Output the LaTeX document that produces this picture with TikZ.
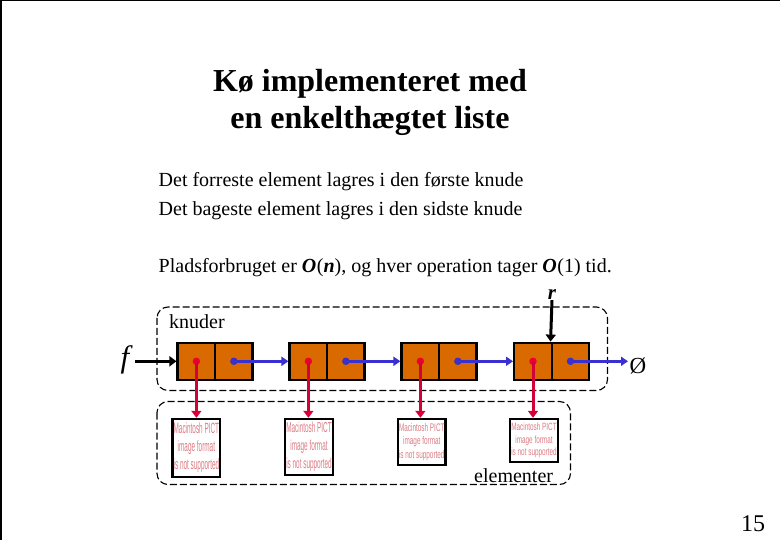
\documentclass[tikz,border=0pt]{standalone}
\usepackage{fontspec}
\usepackage{graphicx}
\setmainfont{Liberation Serif}
\setsansfont{Liberation Sans}
\usetikzlibrary{arrows.meta}
\definecolor{cellfill}{HTML}{D96A00}
\definecolor{redline}{HTML}{D4003A}
\definecolor{reddot}{HTML}{F00030}
\definecolor{blueline}{HTML}{3A2FD0}
\definecolor{pictred}{HTML}{DC7C84}
\tikzset{
  x=1pt,y=-1pt,
  cellbox/.style={draw=black,fill=cellfill,line width=2.4pt,minimum width=37.5pt,minimum height=37pt,inner sep=0pt,anchor=center},
  elembox/.style={draw=black,fill=white,line width=2.4pt,inner sep=0pt,minimum width=47.5pt,align=center,font=\sffamily\fontsize{9}{11}\selectfont,text=pictred},
  groupbox/.style={draw=black,dash pattern=on 7pt off 3pt,line width=1.1pt,rounded corners=11pt},
  bodytext/.style={anchor=base west,inner sep=0pt,font=\fontsize{20}{24}\selectfont},
  titletext/.style={anchor=base,inner sep=0pt,font=\bfseries\fontsize{32}{36}\selectfont},
  bluearrow/.style={draw=blueline,line width=3pt,-{Triangle[length=7pt,width=9pt]}},
  redarrow/.style={draw=redline,line width=3pt,-{Triangle[length=7pt,width=10pt]}},
  blackarrow/.style={draw=black,line width=3pt,-{Triangle[length=7pt,width=10pt]}},
  dotred/.style={circle,fill=reddot,inner sep=0pt,minimum size=7.5pt},
  dotblue/.style={circle,fill=blueline,inner sep=0pt,minimum size=7.5pt}
}
\newcommand{\pict}[1]{\resizebox{45.5pt}{#1}{\begin{tabular}{@{}c@{}}Macintosh PICT\\image format\\is not supported\end{tabular}}}
\begin{document}
\begin{tikzpicture}
\useasboundingbox (0,0) rectangle (780,540);
\fill[white] (0,0) rectangle (780,540);
\fill[black] (0,0) rectangle (780,1.5);
\fill[black] (0,0) rectangle (1.5,540);

\node[titletext] (t1) at (370,92) {Kø implementeret med};
\node[titletext] (t2) at (370,129) {en enkelthægtet liste};
\node[bodytext] (b1) at (158.5,187) {Det forreste element lagres i den første knude};
\node[bodytext] (b2) at (158.5,216) {Det bageste element lagres i den sidste knude};
\node[bodytext] (b3) at (158.5,273) {Pladsforbruget er \textbf{\textit{O}}\kern0.5pt(\textbf{\textit{n}}), og hver operation tager \textbf{\textit{O}}\kern0.5pt(1) tid.};

\draw[groupbox] (157,307) rectangle (607.5,390.5);
\draw[groupbox] (157,401.5) rectangle (570.5,484.5);

\node[bodytext] (knuder) at (169,329) {knuder};
\node[bodytext] (elementer) at (474,482) {elementer};
\node[anchor=base,inner sep=0pt,font=\itshape\fontsize{31}{32}\selectfont] (f) at (125,368) {f};
\node[anchor=base,inner sep=0pt,font=\bfseries\itshape\fontsize{21}{24}\selectfont] (r) at (552,300) {r};
\node[anchor=base,inner sep=0pt,font=\fontsize{24}{26}\selectfont] (page) at (753,531) {15};
\node[anchor=center,inner sep=0pt,font=\fontsize{23}{24}\selectfont] (null) at (638,365.5) {Ø};
\coordinate (fstart) at (135,361.3);
\coordinate (nullend) at (628,361.3);

% node cells
\foreach \n/\cx in {1/196.4,2/308.4,3/420.4,4/533}{
  \node[cellbox] (a\n) at (\cx,361.3) {};
  \node[cellbox] (b\n) at (\cx+37.5,361.3) {};
  \node[dotred] (ra\n) at (a\n.center) {};
  \node[dotblue] (bl\n) at (b\n.center) {};
}

% elements
\node[elembox,minimum height=58pt] (e1) at (196.4,448) {\pict{31pt}};
\node[elembox,minimum height=56pt] (e2) at (309,447) {\pict{30pt}};
\node[elembox,minimum height=46pt] (e3) at (421.8,442) {\pict{23pt}};
\node[elembox,minimum height=43pt] (e4) at (534,440.5) {\pict{22pt}};

% connectors
\draw[blackarrow] (fstart) -- (a1.west);
\draw[blackarrow] (r.south) -- (b4.north west);
\draw[bluearrow] (bl1.center) -- (a2.west);
\draw[bluearrow] (bl2.center) -- (a3.west);
\draw[bluearrow] (bl3.center) -- (a4.west);
\draw[bluearrow] (bl4.center) -- (nullend);
\foreach \n in {1,2,3,4}{
  \draw[redarrow] (ra\n.center) -- (e\n.north -| ra\n.center);
}
\end{tikzpicture}
\end{document}
